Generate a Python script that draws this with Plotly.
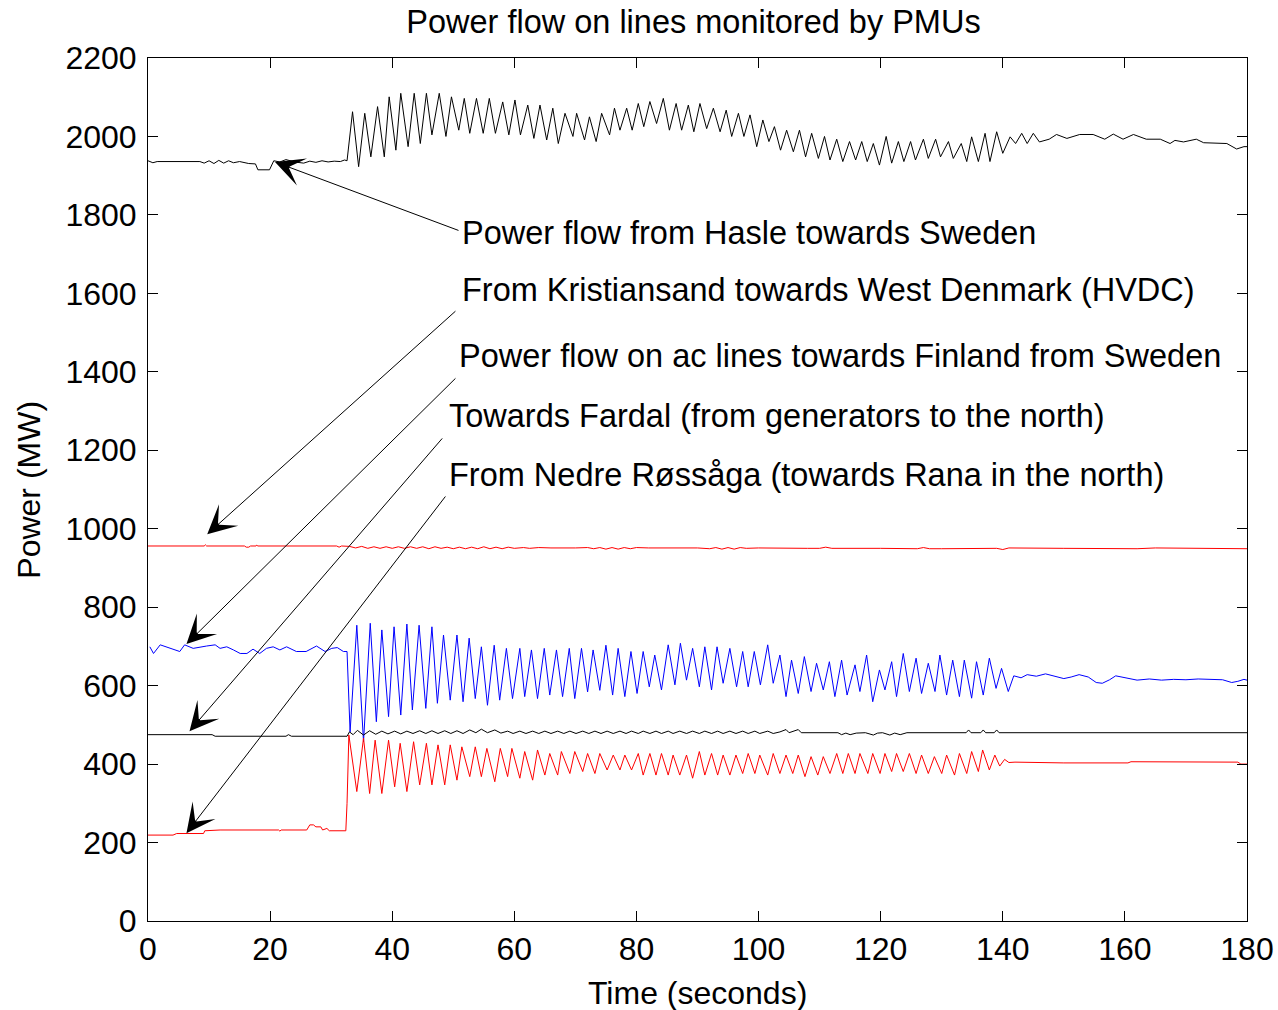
import plotly.graph_objects as go

# values (time in s, power in MW)
hasle_t = [0, 0.8, 1.5, 8.5, 9.2, 10.0, 10.8, 11.6, 12.4, 13.2, 14.0, 15.0, 16.5, 17.6, 18.0, 19.9,
           20.6, 21.6, 22.6, 24.0, 25.5, 26.5, 27.5, 28.5, 29.5, 30.5, 31.5, 32.2, 32.6,
           33.5, 34.5, 35.5, 36.5, 37.6, 38.7, 39.5, 40.6, 41.4, 42.6, 43.6, 44.6, 45.6, 46.5,
           47.7, 48.8, 49.7, 50.9, 51.8, 52.7, 53.8, 54.9, 55.9, 56.9, 58.1, 59.1, 60.1, 61.0,
           62.2, 63.2, 64.2, 65.3, 66.3, 67.2, 68.3, 69.6, 70.2, 71.5, 72.3, 73.4, 74.3, 75.6,
           76.4, 77.3, 78.4, 79.3, 80.3, 81.2, 82.2, 83.3, 84.4, 85.4, 86.5, 87.4, 88.5, 89.4,
           90.4, 91.5, 92.6, 93.7, 94.7, 95.6, 96.7, 97.6, 98.6, 99.7, 100.7, 101.7, 102.6, 103.6,
           104.6, 105.7, 106.7, 107.7, 108.7, 109.8, 110.8, 111.7, 112.8, 113.8, 114.9, 115.9,
           116.9, 117.8, 118.8, 119.8, 120.9, 121.8, 122.9, 123.8, 124.9, 125.7, 127.0, 127.8,
           129.0, 129.8, 131.1, 131.9, 133.2, 134.1, 134.9, 136.0, 137.1, 137.9, 139.0, 140.0,
           141.2, 142.1, 143.1, 144.0, 145.0, 146.0, 147.6, 148.8, 150.5, 152.6, 154.8, 156.7,
           158.1, 159.7, 161.4, 163.5, 165.8, 167.4, 168.2, 169.6, 171.7, 172.9, 175.0, 176.7,
           178.3, 179.5, 180.0]
hasle_mw = [1938, 1933, 1936, 1936, 1932, 1938, 1931, 1939, 1932, 1938, 1933, 1936, 1931, 1930, 1915, 1915,
            1938, 1935, 1941, 1935, 1932, 1937, 1934, 1938, 1935, 1937, 1936, 1940, 1938,
            2063, 1923, 2059, 1948, 2076, 1948, 2101, 1965, 2110, 1974, 2110, 1982, 2110, 2004,
            2110, 2000, 2101, 2016, 2097, 2008, 2097, 2008, 2097, 2008, 2088, 2004, 2093, 2004,
            2080, 1995, 2080, 1991, 2072, 1982, 2059, 2000, 2059, 1991, 2050, 1987, 2059, 2004,
            2072, 2016, 2072, 2016, 2084, 2025, 2089, 2033, 2097, 2016, 2084, 2016, 2080, 2012,
            2084, 2020, 2072, 2012, 2067, 2000, 2059, 2000, 2055, 1974, 2042, 1987, 2025, 1965,
            2016, 1961, 2016, 1948, 2008, 1944, 2000, 1940, 1993, 1936, 1987, 1940,
            1987, 1936, 1982, 1927, 2000, 1932, 1987, 1936, 1987, 1940, 1993, 1944,
            1993, 1948, 1987, 1944, 1982, 1936, 1999, 1936, 2008, 1936, 2012, 1957,
            1999, 1982, 2008, 1982, 2008, 1986, 1993, 2005, 1995, 2005, 2005, 1993,
            2006, 1993, 2005, 1993, 1993, 1982, 1990, 1986, 1993, 1984, 1982, 1982,
            1968, 1974, 1974]

hvdc_t = [0, 9.2, 9.4, 9.6, 15.8, 16.1, 16.5, 16.8, 17.7, 17.8, 18.0, 30.9, 31.3, 31.7,
          33.0, 34.0, 35.0, 36.0, 37.0, 38.0, 39.0, 40.0, 41.0, 42.0, 43.0, 44.0, 45.0, 46.0,
          47.0, 48.0, 49.0, 50.0, 51.0, 52.0, 53.0, 54.0, 55.0, 56.0, 57.0, 58.0, 59.0, 60.0,
          61.5, 62.5, 64.0, 66.0, 70.0, 72.0, 73.0, 74.0, 75.0, 76.0, 77.0, 78.0, 79.0, 80.0,
          82.0, 90.0, 92.0, 93.0, 94.0, 95.0, 96.0, 97.0, 98.0, 100.0, 108.0, 110.0, 111.0,
          112.0, 120.0, 126.0, 127.0, 128.0, 130.0, 139.0, 140.0, 141.0, 150.0, 162.0, 165.0,
          178.0, 180.0]
hvdc_mw = [956, 956, 959, 956, 956, 953, 953, 956, 956, 958, 956, 956, 953, 956,
           955, 951, 955, 950, 954, 950, 954, 950, 954, 950, 954, 950, 954, 949,
           954, 950, 953, 949, 953, 949, 953, 949, 954, 949, 953, 949, 953, 950,
           952, 950, 952, 951, 951, 952, 949, 952, 948, 952, 948, 952, 949, 952,
           951, 951, 949, 952, 948, 952, 948, 952, 950, 951, 950, 950, 953,
           950, 950, 949, 952, 949, 949, 950, 947, 951, 950, 949, 951,
           949, 949]

finland_t = [0.3, 0.9, 2.0, 3.6, 5.2, 6.0, 7.4, 9.6, 11.0, 11.8, 12.9, 14.0, 15.1, 16.2, 17.2,
             18.3, 19.4, 20.5, 21.6, 22.7, 24.3, 25.9, 27.6, 29.0, 30.1, 31.0, 32.0, 32.6, 33.1,
             34.2, 35.3, 36.4, 37.4, 38.3, 39.4, 40.3, 41.4, 42.4, 43.3, 44.4, 45.5, 46.5, 47.4,
             48.4, 49.5, 50.6, 51.6, 52.6, 53.6, 54.6, 55.6, 56.7, 57.6, 58.7, 59.7, 60.9, 61.7,
             62.8, 63.8, 64.9, 65.8, 66.9, 67.9, 69.0, 69.9, 71.0, 72.0, 72.9, 74.0, 75.0, 76.1,
             77.0, 78.1, 79.1, 80.1, 81.1, 82.1, 83.0, 84.1, 85.2, 86.3, 87.2, 88.2, 89.2, 90.3,
             91.2, 92.3, 93.2, 94.2, 95.3, 96.4, 97.4, 98.3, 99.3, 100.3, 101.5, 102.4, 103.5,
             104.5, 105.4, 106.5, 107.5, 108.6, 109.5, 110.6, 111.6, 112.5, 113.6, 114.5, 115.8,
             116.6, 117.7, 118.7, 119.8, 120.7, 121.8, 122.6, 123.7, 124.7, 125.8, 126.7, 127.8,
             128.9, 129.7, 130.8, 131.8, 132.9, 133.7, 134.9, 135.7, 136.8, 137.8, 138.9, 139.8,
             140.9, 141.8, 143.0, 144.0, 145.5, 147.0, 148.5, 150.0, 151.2, 152.5, 154.0, 155.3,
             156.3, 157.5, 158.5, 160.0, 162.0, 164.0, 166.0, 168.0, 170.0, 172.0, 174.0, 176.0,
             177.5, 178.5, 179.5, 180.0]
finland_mw = [699, 682, 704, 695, 687, 704, 695, 701, 704, 695, 699, 691, 682, 682, 693,
              682, 695, 699, 691, 699, 687, 687, 701, 687, 695, 697, 687, 687, 482,
              754, 457, 759, 508, 742, 521, 750, 525, 757, 538, 754, 542, 750, 555,
              729, 563, 729, 559, 721, 567, 699, 550, 703, 563, 695, 567, 695, 572,
              691, 567, 695, 576, 691, 572, 695, 567, 695, 584, 691, 588, 703, 576,
              695, 572, 687, 580, 687, 597, 678, 589, 704, 602, 708, 614, 695, 597,
              699, 589, 699, 606, 695, 597, 687, 597, 687, 602, 704, 606, 678,
              572, 665, 580, 674, 585, 657, 589, 661, 572, 665, 576, 653,
              585, 678, 559, 640, 589, 661, 572, 682, 585, 670, 580, 657,
              585, 678, 576, 665, 572, 665, 568, 661, 576, 670, 593, 644,
              585, 625, 620, 628, 624, 630, 624, 618, 622, 628, 622, 608,
              606, 615, 625, 620, 614, 617, 614, 616, 615, 617, 616, 615,
              608, 611, 616, 614]

fardal_t = [0, 10.5, 11.0, 22.6, 23.0, 23.5, 32.6, 33.0, 33.6, 34.3, 35.3, 36.3, 37.3, 38.3,
            39.3, 40.4, 41.4, 42.4, 43.4, 44.5, 45.5, 46.5, 47.5, 48.6, 49.6, 50.6, 51.6, 52.7,
            53.7, 54.6, 55.6, 56.8, 57.8, 58.9, 59.8, 60.9, 61.9, 63.0, 64.0, 65.0, 66.0, 67.1,
            68.1, 69.1, 70.1, 71.2, 72.2, 73.2, 74.2, 75.2, 76.2, 77.3, 78.3, 79.2, 80.3, 81.1,
            82.2, 83.2, 84.1, 85.2, 86.0, 87.1, 88.2, 89.2, 90.3, 91.2, 92.3, 93.3, 94.2, 95.3,
            96.3, 97.4, 98.3, 99.4, 100.2, 101.5, 102.4, 103.5, 104.5, 105.0, 106.5, 107.0,
            113.0, 113.6, 114.3, 115.0, 116.0, 116.6, 117.5, 118.8, 119.5, 120.3, 121.5, 122.3,
            123.2, 124.3, 125.0, 134.0, 134.4, 134.8, 136.4, 136.8, 137.2, 138.6, 139.0, 139.4,
            180.0]
fardal_mw = [475, 475, 471, 471, 475, 471, 471, 482, 475, 486, 474, 485, 476, 484,
             477, 484, 477, 484, 478, 485, 478, 485, 478, 485, 478, 485, 478, 487,
             480, 489, 480, 487, 479, 484, 478, 484, 478, 484, 478, 484, 478, 484,
             478, 484, 478, 484, 478, 484, 478, 484, 478, 484, 478, 484, 478, 484,
             478, 484, 478, 484, 478, 484, 478, 484, 478, 484, 478, 484, 478, 484,
             478, 484, 478, 484, 478, 484, 478, 482, 488, 480, 488, 480,
             480, 475, 479, 475, 479, 480, 480, 474, 479, 480, 474, 479,
             475, 480, 480, 480, 487, 480, 480, 487, 480, 480, 487, 480,
             480]

nedre_t = [0, 4.1, 4.7, 9.1, 9.3, 11.8, 21.4, 21.6, 21.8, 26.0, 26.5, 27.1, 27.5, 28.3, 28.6,
           29.3, 29.7, 32.4, 32.6, 32.9, 34.2, 35.3, 36.3, 37.2, 38.3, 39.4, 40.4, 41.3, 42.4,
           43.5, 44.5, 45.6, 46.5, 47.5, 48.6, 49.5, 50.6, 51.4, 52.7, 53.6, 54.6, 55.5, 56.8,
           57.7, 58.9, 59.6, 60.9, 61.7, 63.0, 63.8, 65.0, 65.8, 67.1, 67.7, 69.1, 69.9, 71.2,
           72.0, 73.2, 74.0, 75.2, 76.2, 77.3, 78.1, 79.2, 80.3, 81.1, 82.2, 83.2, 84.1, 85.2,
           86.0, 87.1, 88.2, 89.2, 90.3, 91.2, 92.3, 93.3, 94.2, 95.3, 96.3, 97.4, 98.3, 99.4,
           100.2, 101.5, 102.4, 103.5, 104.5, 105.6, 106.5, 107.6, 108.6, 109.7, 110.6, 111.7,
           112.8, 113.8, 114.7, 115.8, 116.6, 117.9, 118.7, 119.9, 120.7, 121.8, 122.6, 123.7,
           124.7, 125.8, 126.7, 127.8, 128.8, 130.0, 130.8, 132.1, 132.9, 134.1, 134.9, 136.0,
           136.7, 137.8, 138.7, 139.5, 140.3, 141.0, 142.0, 150.0, 160.5, 161.0, 175.0, 178.5,
           179.0, 180.0]
nedre_mw = [219, 219, 223, 223, 230, 232, 232, 229, 232, 232, 245, 245, 240, 240, 232,
            236, 230, 230, 300, 474, 330, 466, 325, 461, 325, 461, 342, 453, 330,
            457, 347, 453, 347, 449, 347, 449, 359, 444, 368, 444, 368, 440, 355,
            440, 368, 440, 364, 432, 359, 436, 372, 427, 372, 432, 376, 432, 381,
            427, 376, 427, 385, 423, 385, 423, 385, 427, 372, 427, 372, 427, 372,
            423, 372, 423, 364, 432, 372, 427, 372, 423, 372, 423, 376, 427, 376,
            423, 372, 427, 376, 423, 376, 423, 368, 419, 372, 419, 376,
            427, 376, 427, 376, 427, 376, 427, 376, 427, 381, 427, 381,
            427, 376, 423, 376, 419, 376, 423, 372, 427, 376, 432, 381,
            436, 385, 423, 395, 412, 404, 405, 403, 403, 406, 405, 405,
            400, 400]

labels = ["Power flow from Hasle towards Sweden",
          "From Kristiansand towards West Denmark (HVDC)",
          "Power flow on ac lines towards Finland from Sweden",
          "Towards Fardal (from generators to the north)",
          "From Nedre R\u00f8ss\u00e5ga (towards Rana in the north)"]

series = [(hasle_t, hasle_mw, "black"),
          (hvdc_t, hvdc_mw, "#ff0000"),
          (finland_t, finland_mw, "#0000ff"),
          (fardal_t, fardal_mw, "black"),
          (nedre_t, nedre_mw, "#ff0000")]

FONT = "Liberation Sans, Arial, sans-serif"

fig = go.Figure()
for (t, p, c), name in zip(series, labels):
    fig.add_trace(go.Scatter(x=t, y=p, mode="lines", name=name,
                             line=dict(color=c, width=1)))

# arrow tip (x, y) and tail (ax, ay) in data units, label left/middle point
arrows = [(20.8, 1935, 51.1, 1759, 51.1, 1754),
          (9.7, 986, 50.6, 1558, 51.1, 1608),
          (6.3, 706, 50.6, 1387, 50.6, 1440),
          (6.8, 484, 48.4, 1234, 49.0, 1287),
          (6.3, 224, 48.9, 1086, 49.0, 1137)]
for (x, y, ax, ay, lx, ly), txt in zip(arrows, labels):
    fig.add_annotation(x=x, y=y, ax=ax, ay=ay, xref="x", yref="y", axref="x", ayref="y",
                       text="", showarrow=True, arrowhead=3, arrowsize=4.8, arrowwidth=1,
                       arrowcolor="black", standoff=0, startstandoff=0)
    fig.add_annotation(x=lx, y=ly, xref="x", yref="y", text=txt, showarrow=False,
                       xanchor="left", yanchor="middle",
                       font=dict(family=FONT, size=32.5, color="black"))

fig.add_annotation(x=-0.109, y=0.5, xref="paper", yref="paper", text="Power (MW)",
                   textangle=-90, showarrow=False, xanchor="center", yanchor="middle",
                   font=dict(family=FONT, size=32, color="black"))
fig.add_annotation(x=0.5, y=-0.083, xref="paper", yref="paper", text="Time (seconds)",
                   showarrow=False, xanchor="center", yanchor="middle",
                   font=dict(family=FONT, size=32, color="black"))

axis_style = dict(showgrid=False, zeroline=False, showline=True, linecolor="black",
                  linewidth=1, mirror="ticks", ticks="inside", ticklen=10,
                  tickcolor="black", tickwidth=1, automargin=False,
                  tickfont=dict(family=FONT, size=32, color="black"))
fig.update_xaxes(range=[0, 180], tick0=0, dtick=20, ticklabelstandoff=0, **axis_style)
fig.update_yaxes(range=[0, 2200], tick0=0, dtick=200, ticklabelstandoff=4, **axis_style)

fig.update_layout(
    width=1278, height=1010,
    margin=dict(l=148, r=31, t=58, b=89),
    paper_bgcolor="white", plot_bgcolor="white",
    showlegend=False,
    title=dict(text="Power flow on lines monitored by PMUs", x=0.5426, xanchor="center",
               y=1 - 22 / 1010, yanchor="middle",
               font=dict(family=FONT, size=32.5, color="black")),
)

# drop the default 8 px page margin so the figure fills the window exactly
fig.write_html("out.html",
               config={"responsive": False, "displayModeBar": False},
               post_script="document.body.style.margin='0';document.body.style.overflow='hidden';")
